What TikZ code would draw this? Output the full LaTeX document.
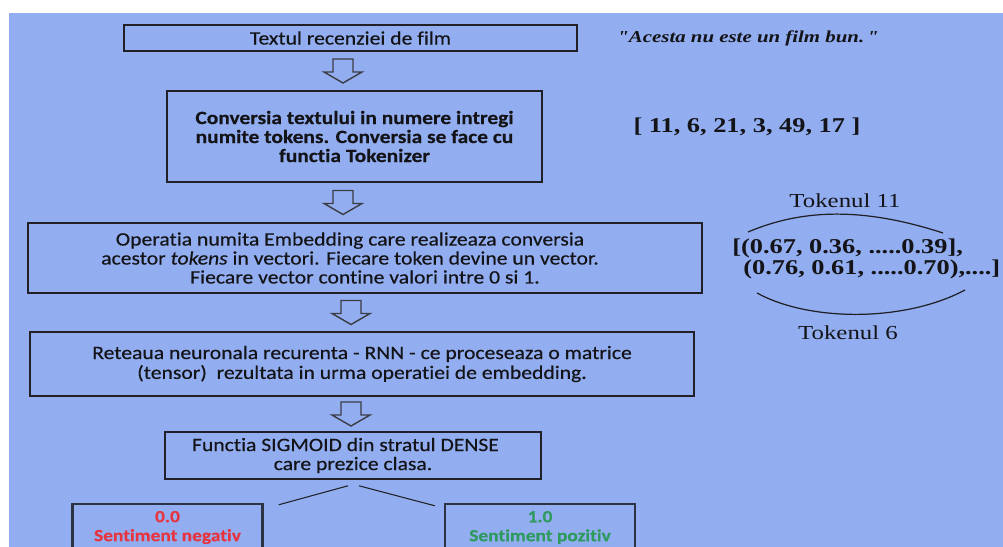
\documentclass[tikz,border=0pt]{standalone}
\usepackage{fontspec}
\setmainfont{Liberation Serif}
\newfontfamily\boxfont{Carlito}[FakeStretch=1.14, FakeBold=0.4, Ligatures=NoCommon]
\newfontfamily\notefont{Liberation Serif}[FakeStretch=1.25]
\usepackage{xcolor}
\definecolor{revblue}{HTML}{92AEF0}
\definecolor{revdark}{HTML}{141418}
\definecolor{revline}{HTML}{202026}
\definecolor{revgray}{HTML}{3C3C44}
\definecolor{revred}{HTML}{E8343E}
\definecolor{revgreen}{HTML}{2E9A5E}
\definecolor{revframe}{HTML}{2C3444}
\usetikzlibrary{positioning,calc}
\tikzset{
  stepbox/.style={
    draw=revline, line width=0.9pt,
    align=center, text=revdark, inner sep=0pt,
    font=\boxfont\fontsize{10.8}{10.8}\selectfont
  },
  classbox/.style={
    draw=revframe, line width=1.4pt,
    minimum width=3.8cm, minimum height=0.94cm,
    align=center, inner sep=0pt,
    font=\boxfont\bfseries\fontsize{9.7}{10.8}\selectfont
  },
  notetext/.style={
    text=revdark, inner sep=0pt, align=left,
    font=\notefont\bfseries\fontsize{12}{10.8}\selectfont
  },
  tokenlbl/.style={
    text=revdark, inner sep=0pt,
    font=\notefont\fontsize{11.3}{12}\selectfont
  },
  bracecurve/.style={draw=revline, line width=0.7pt},
  splitline/.style={draw=revline, line width=0.6pt},
  pics/downarr/.style={code={
    \draw[revgray, line width=0.8pt, fill=revblue, line join=miter]
      (-10,-12) -- (10,-12) -- (10,1) -- (19,1) -- (0,12)
      -- (-19,1) -- (-10,1) -- cycle;
  }}
}

\begin{document}
\begin{tikzpicture}[x=0.02cm, y=-0.02cm]
  \useasboundingbox (0,0) rectangle (1003,547);
  \clip (0,0) rectangle (1003,547);
  \fill[revblue] (9,13) rectangle (1003,547);

  %% ---- flow boxes ----
  \node[stepbox, minimum width=9.06cm, minimum height=0.52cm] (t1) at (350.5,38)
    {Textul recenziei de film};
  \node[stepbox, font=\boxfont\bfseries\fontsize{10.7}{10.8}\selectfont,
        minimum width=7.5cm, minimum height=1.82cm] (t2) at (354.5,136.5)
    {Conversia textului in numere intregi\\
     numite tokens. Conversia se face cu\\
     functia Tokenizer};
  \node[stepbox, minimum width=13.48cm, minimum height=1.4cm] (t3) at (365,258)
    {\hspace*{-0.6cm}Operatia numita Embedding care realizeaza conversia\\
     \hspace*{-0.6cm}acestor \textit{tokens} in vectori. Fiecare token devine un vector.\\
     Fiecare vector contine valori intre 0 si 1.};
  \node[stepbox, font=\boxfont\fontsize{10.8}{11.3}\selectfont,
        minimum width=13.28cm, minimum height=1.28cm] (t4) at (362,364)
    {Reteaua neuronala recurenta - RNN - ce proceseaza o matrice\\
     (tensor)\ \ rezultata in urma operatiei de embedding.};
  \node[stepbox, minimum width=7.52cm, minimum height=0.94cm] (t5) at (353,455.5)
    {\hspace*{-0.3cm}Functia SIGMOID din stratul DENSE\\care prezice clasa.};

  %% ---- output classes ----
  \node[classbox, text=revred] (t6) at (167.5,527.5) {0.0\\Sentiment negativ};
  \node[classbox, text=revgreen] (t7) at (540,527.5) {1.0\\Sentiment pozitiv};

  %% ---- block arrows ----
  \coordinate (colA) at (343,0);
  \coordinate (colB) at (351,0);
  \pic at ($(colA |- t1.south)!.5!(colA |- t2.north)$) {downarr};
  \pic at ($(colA |- t2.south)!.5!(colA |- t3.north)$) {downarr};
  \pic at ($(colB |- t3.south)!.5!(colB |- t4.north)$) {downarr};
  \pic at ($(colB |- t4.south)!.5!(colB |- t5.north)$) {downarr};

  \draw[splitline] ($(t5.south)+(-5,6)$) -- ($(t6.north east)+(15,2)$);
  \draw[splitline] ($(t5.south)+(6,6)$) -- ($(t7.north west)+(-9,3)$);

  %% ---- example on the right ----
  \node[notetext, font=\notefont\bfseries\itshape\fontsize{9.5}{10}\selectfont,
        anchor=west] (quote) at (617,38) {"Acesta nu este un film bun.\,"};
  \node[notetext] (ids) at (747,127) {[ 11, 6, 21, 3, 49, 17 ]};
  \node[tokenlbl] (tok11) at (845,201) {Tokenul 11};
  \node[notetext, anchor=west] (vec) at (732,259)
    {[(0.67, 0.36, .....0.39],\\\hspace*{0.22cm}(0.76, 0.61, .....0.70),....]};
  \node[tokenlbl] (tok6) at (848,333) {Tokenul 6};

  \draw[bracecurve] (748,232) .. controls (800,210) and (860,206) .. (943,233);
  \draw[bracecurve] (757,293) .. controls (810,322) and (905,322) .. (965,290);

\end{tikzpicture}
\end{document}
